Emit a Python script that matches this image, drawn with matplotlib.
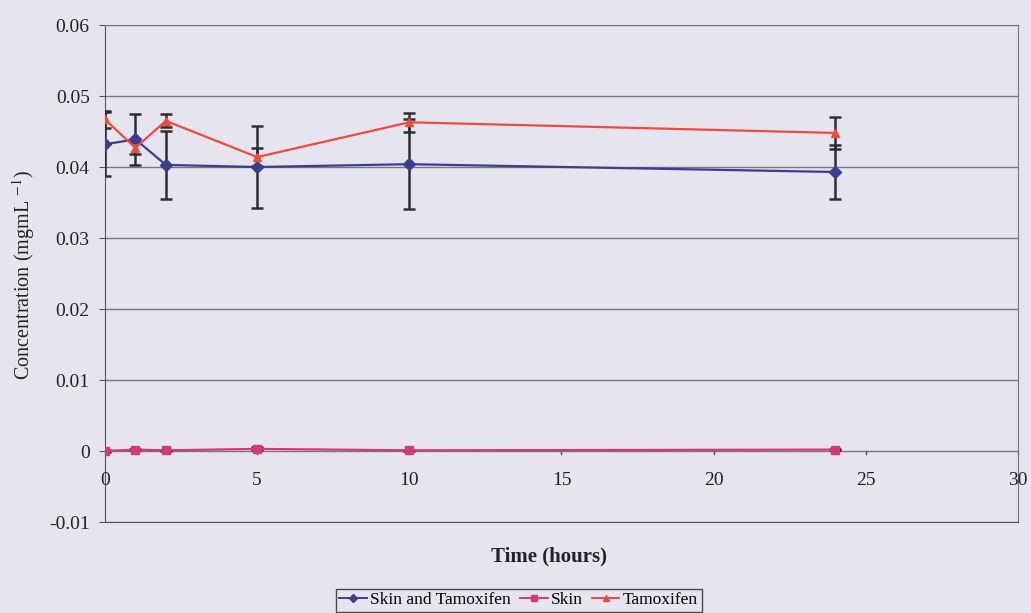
import matplotlib
matplotlib.use("Agg")
import matplotlib.pyplot as plt
from matplotlib.lines import Line2D

plt.rcParams['font.family'] = ['Liberation Serif', 'DejaVu Serif']
plt.rcParams['mathtext.fontset'] = 'stix'

time = [0, 1, 2, 5, 10, 24]
skin_tam = [0.0432, 0.0439, 0.0403, 0.0400, 0.0404, 0.0393]
skin_tam_err = [0.0045, 0.0036, 0.0048, 0.0058, 0.0063, 0.0038]
skin = [0.0000, 0.0002, 0.0001, 0.0003, 0.0001, 0.0002]
skin_err = [0.0001, 0.0001, 0.0001, 0.0002, 0.0001, 0.0001]
tam = [0.0467, 0.0427, 0.0465, 0.0414, 0.0463, 0.0448]
tam_err = [0.0012, 0.0008, 0.0009, 0.0013, 0.0013, 0.0022]
xticks = [0, 5, 10, 15, 20, 25, 30]
yticks = [-0.01, 0, 0.01, 0.02, 0.03, 0.04, 0.05, 0.06]
ytick_labels = ['-0.01', '0', '0.01', '0.02', '0.03', '0.04', '0.05', '0.06']

names = ['Skin and Tamoxifen', 'Skin', 'Tamoxifen']
bg = '#E6E5EF'
c_blue = '#3D3D8E'
c_pink = '#D23A72'
c_red = '#EE4A3E'
c_err = '#2E2E2E'
c_txt = '#222222'

fig = plt.figure(figsize=(10.31, 6.13), dpi=100, facecolor=bg)
ax = fig.add_axes([0.1018, 0.1484, 0.8856, 0.8108])
ax.set_facecolor(bg)

ax.set_xlim(0, 30)
ax.set_ylim(-0.01, 0.06)
ax.set_yticks(yticks)
ax.set_yticklabels(ytick_labels, fontsize=14, color=c_txt)
for y in yticks:
    ax.axhline(y, color='#77777E', lw=1.0, zorder=1)

# x axis drawn at y=0 (Excel style)
ax.set_xticks([])
for x in xticks:
    ax.plot([x, x], [0, -0.0004], color='#55555A', lw=1, zorder=2, clip_on=False)
    ax.text(x, -0.0041, str(x), ha='center', va='center', fontsize=14, color=c_txt)

for s in ['top', 'right']:
    ax.spines[s].set_color('#77777E')
for s in ['left', 'bottom']:
    ax.spines[s].set_color('#55555A')
ax.tick_params(axis='y', length=4, color='#55555A', direction='out', pad=7)

ekw = dict(fmt='none', ecolor=c_err, elinewidth=1.8, capsize=4, capthick=1.8, zorder=3)
ax.errorbar(time, skin_tam, yerr=skin_tam_err, **ekw)
ax.errorbar(time, tam, yerr=tam_err, **ekw)
ax.errorbar(time, skin, yerr=skin_err, **ekw)

ax.plot(time, skin_tam, color=c_blue, marker='D', ms=6, lw=1.6, zorder=4)
ax.plot(time, skin, color=c_pink, marker='s', ms=6, lw=1.6, zorder=4)
ax.plot(time, tam, color=c_red, marker='^', ms=6, lw=1.6, zorder=5)

fig.text(0.5325, 1 - 556 / 613, 'Time (hours)', ha='center', va='center',
         fontsize=15, fontweight='bold', color=c_txt)
fig.text(24 / 1031, 1 - 275 / 613, 'Concentration (mgmL $^{-1}$)', ha='center', va='center',
         rotation=90, fontsize=14.5, color=c_txt)

handles = [Line2D([], [], color=c_blue, marker='D', ms=4, lw=1.4),
           Line2D([], [], color=c_pink, marker='s', ms=5, lw=1.4),
           Line2D([], [], color=c_red, marker='^', ms=5, lw=1.4)]
leg = fig.legend(handles, names, loc='lower center', bbox_to_anchor=(0.503, -0.012), ncol=3,
                 fontsize=12.5, frameon=True, fancybox=False, edgecolor=c_txt,
                 handlelength=1.6, handletextpad=0.2, columnspacing=0.5, borderpad=0.2)
leg.get_frame().set_facecolor(bg)
leg.get_frame().set_linewidth(1.0)

fig.savefig('out.png', dpi=100, facecolor=bg)
